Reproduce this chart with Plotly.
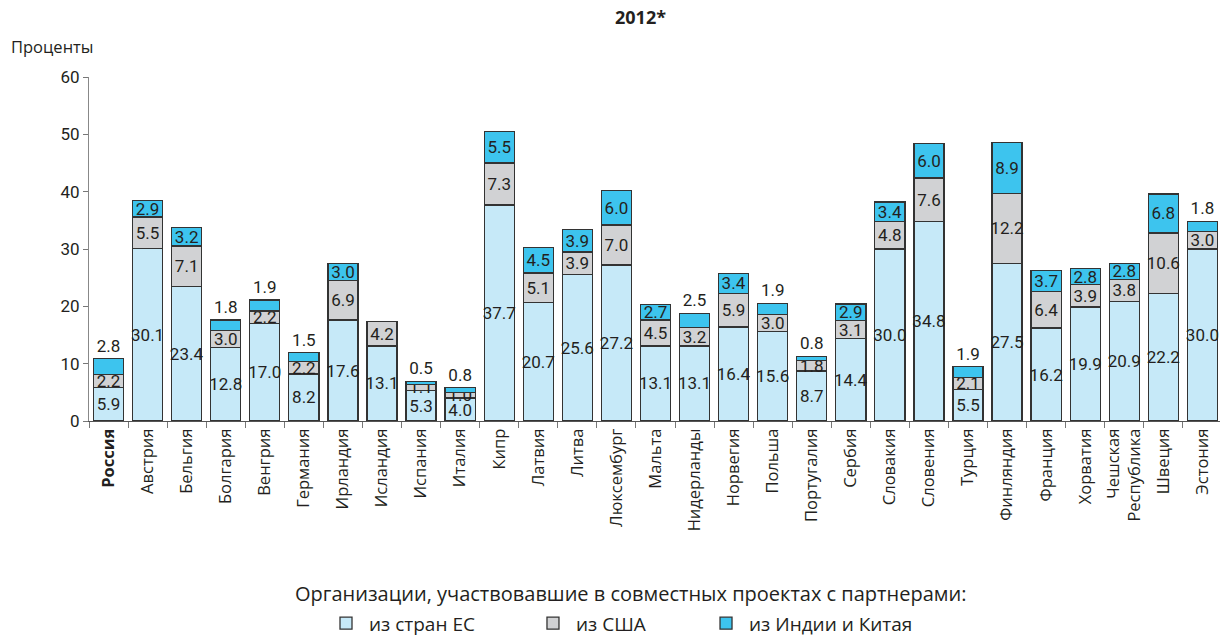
import plotly.graph_objects as go

countries = ["Россия", "Австрия", "Бельгия", "Болгария", "Венгрия", "Германия", "Ирландия",
             "Исландия", "Испания", "Италия", "Кипр", "Латвия", "Литва", "Люксембург",
             "Мальта", "Нидерланды", "Норвегия", "Польша", "Португалия", "Сербия",
             "Словакия", "Словения", "Турция", "Финляндия", "Франция", "Хорватия",
             "Чешская Республика", "Швеция", "Эстония"]
tick_labels = ["<b>Россия</b>", "Австрия", "Бельгия", "Болгария", "Венгрия", "Германия", "Ирландия",
               "Исландия", "Испания", "Италия", "Кипр", "Латвия", "Литва", "Люксембург",
               "Мальта", "Нидерланды", "Норвегия", "Польша", "Португалия", "Сербия",
               "Словакия", "Словения", "Турция", "Финляндия", "Франция", "Хорватия",
               "Чешская<br>Республика", "Швеция", "Эстония"]
eu = [5.9, 30.1, 23.4, 12.8, 17.0, 8.2, 17.6, 13.1, 5.3, 4.0, 37.7, 20.7, 25.6, 27.2,
      13.1, 13.1, 16.4, 15.6, 8.7, 14.4, 30.0, 34.8, 5.5, 27.5, 16.2, 19.9, 20.9, 22.2, 30.0]
usa = [2.2, 5.5, 7.1, 3.0, 2.2, 2.2, 6.9, 4.2, 1.1, 1.0, 7.3, 5.1, 3.9, 7.0,
       4.5, 3.2, 5.9, 3.0, 1.8, 3.1, 4.8, 7.6, 2.1, 12.2, 6.4, 3.9, 3.8, 10.6, 3.0]
india_china = [2.8, 2.9, 3.2, 1.8, 1.9, 1.5, 3.0, None, 0.5, 0.8, 5.5, 4.5, 3.9, 6.0,
               2.7, 2.5, 3.4, 1.9, 0.8, 2.9, 3.4, 6.0, 1.9, 8.9, 3.7, 2.8, 2.8, 6.8, 1.8]

# countries whose top (India/China) value label sits above the bar
top_label_outside = ["Россия", "Болгария", "Венгрия", "Германия", "Испания", "Италия",
                     "Нидерланды", "Польша", "Португалия", "Турция", "Эстония"]

series_names = ["из стран ЕС", "из США", "из Индии и Китая"]
colors = ["#C6E9F8", "#D1D2D4", "#3DC4EE"]
legend_title = "Организации, участвовавшие в совместных проектах с партнерами:"
title = "2012*"
y_title = "Проценты"

label_font = dict(family="Roboto, Liberation Sans, sans-serif", size=17, color="#231F20")
legend_ids = ["legend", "legend2", "legend3"]
legend_x = [0.2069, 0.3899, 0.5429]

fig = go.Figure()
for name, vals, col, lid in zip(series_names, [eu, usa, india_china], colors, legend_ids):
    txt = ["" if v is None else f"{v:.1f}" for v in vals]
    if name == series_names[2]:
        pos = ["outside" if c in top_label_outside else "inside" for c in countries]
    else:
        pos = "inside"
    fig.add_trace(go.Bar(
        x=countries, y=vals, name=name, text=txt, textposition=pos,
        textangle=0, constraintext="none", insidetextanchor="middle",
        textfont=label_font, insidetextfont=label_font, outsidetextfont=label_font,
        marker=dict(color=col, line=dict(color="#333333", width=1.3)),
        cliponaxis=False, hoverinfo="skip", legend=lid,
    ))

legend_common = dict(orientation="h", xanchor="left", y=-0.533, yanchor="top",
                     font=dict(size=19, family="Open Sans, sans-serif"),
                     itemwidth=36, bgcolor="rgba(0,0,0,0)")

fig.update_layout(
    barmode="stack", bargap=0.23,
    width=1220, height=638,
    margin=dict(l=89, r=0, t=77, b=217, autoexpand=False),
    plot_bgcolor="white", paper_bgcolor="white",
    font=dict(family="Open Sans, sans-serif", color="#231F20"),
    title=dict(text="<b>" + title + "</b>", x=0.525, xanchor="center", y=0.973, yanchor="middle",
               font=dict(size=18, family="Open Sans, sans-serif")),
    showlegend=True,
    legend=dict(x=legend_x[0], **legend_common),
    legend2=dict(x=legend_x[1], **legend_common),
    legend3=dict(x=legend_x[2], **legend_common),
)
fig.add_annotation(text=y_title, xref="paper", yref="paper", x=-0.071, y=1.088,
                   xanchor="left", yanchor="middle", showarrow=False,
                   font=dict(size=16.5, family="Open Sans, sans-serif"))
fig.add_annotation(text=legend_title, xref="paper", yref="paper", x=0.479, y=-0.501,
                   xanchor="center", yanchor="middle", showarrow=False,
                   font=dict(size=20, family="Open Sans, sans-serif"))

fig.update_xaxes(
    categoryorder="array", categoryarray=countries,
    tickvals=countries, ticktext=tick_labels, tickangle=-90,
    tickson="boundaries", ticks="outside", ticklen=6, tickcolor="#777",
    showline=True, linecolor="#555", linewidth=1,
    range=[-0.5, 28.45], showgrid=False, automargin=False,
    tickfont=dict(size=16.5, family="Open Sans, sans-serif", color="#231F20"),
)
fig.update_yaxes(
    range=[0, 60], dtick=10, ticks="outside", ticklen=5, tickcolor="#777",
    showline=True, linecolor="#888", linewidth=1, showgrid=False, zeroline=False,
    automargin=False,
    tickfont=dict(size=17, family="Roboto, Liberation Sans, sans-serif", color="#231F20"),
)

fig.write_html("out.html", config={"displayModeBar": False},
               post_script="document.body.style.margin='0';")
